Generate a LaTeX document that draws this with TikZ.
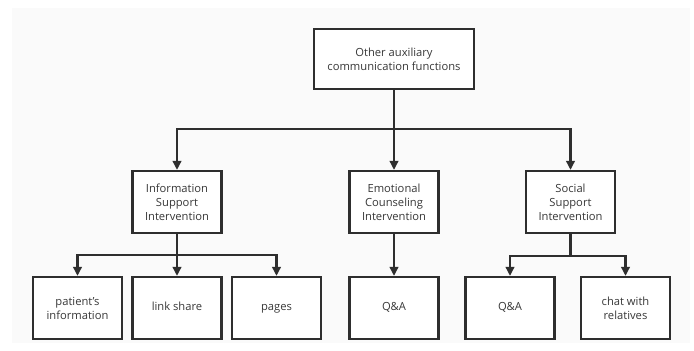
\documentclass[tikz,border=0pt]{standalone}
\usepackage{fontspec}
\setmainfont{Open Sans}
\usetikzlibrary{arrows.meta}
\definecolor{bg}{HTML}{FAFAFA}
\definecolor{ln}{HTML}{2E2E2E}
\begin{document}
\begin{tikzpicture}[x=1pt,y=-1pt,
  box/.style={draw=ln,line width=2.2pt,fill=white,minimum width=89pt,minimum height=62pt,align=center,inner sep=0pt,font=\fontsize{11.2}{14}\selectfont,text=black!78},
  topbox/.style={box,minimum width=160pt,minimum height=60pt},
  wire/.style={draw=ln,line width=2.2pt},
  conn/.style={wire,-{Triangle[length=9pt,width=8.5pt]}}]
\useasboundingbox (0,0) rectangle (694,351);
\fill[white] (0,0) rectangle (694,351);
\fill[bg] (12,8) rectangle (690,343);
\node[topbox] (top) at (394,59) {Other auxiliary\\communication functions};
\node[box] (info) at (177,202) {Information\\Support\\Intervention};
\node[box] (emo) at (394,202) {Emotional\\Counseling\\Intervention};
\node[box] (soc) at (570.5,202) {Social\\Support\\Intervention};
\node[box] (pat) at (77.5,308) {patient's\\information};
\node[box] (link) at (177,308) {\strut link share};
\node[box] (pages) at (276.5,308) {\strut pages};
\node[box] (qa1) at (394,308) {\strut Q\&A};
\node[box] (qa2) at (510,308) {\strut Q\&A};
\node[box] (chat) at (625.5,308) {chat with\\relatives};
\coordinate (j1) at (394,129);
\coordinate (j2) at (177,255);
\coordinate (j3) at (570.5,256);
\draw[conn] (top.south) -- (emo.north);
\draw[conn] (j1) -| (info.north);
\draw[conn] (j1) -| (soc.north);
\draw[conn] (info.south) -- (link.north);
\draw[conn] (j2) -| (pat.north);
\draw[conn] (j2) -| (pages.north);
\draw[conn] (emo.south) -- (qa1.north);
\draw[wire] (soc.south) -- (j3);
\draw[conn] (j3) -| (qa2.north);
\draw[conn] (j3) -| (chat.north);
\end{tikzpicture}
\end{document}
